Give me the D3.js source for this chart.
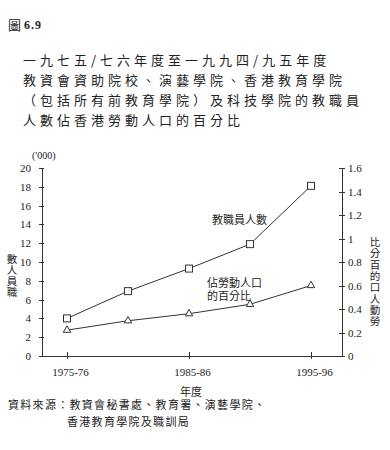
<!DOCTYPE html>
<html>
<head>
<meta charset="utf-8">
<script src="https://cdn.jsdelivr.net/npm/d3@7"></script>
<style>
  body { margin: 0; background: #fff; }
  .cjk { font-family: "Noto Sans CJK TC", "Noto Sans CJK SC", sans-serif; fill: #222; }
  .num { font-family: "Liberation Serif", "DejaVu Serif", serif; font-size: 11px; fill: #222; }
  .axis path, .axis line { stroke: #333; stroke-width: 1; shape-rendering: crispEdges; }
</style>
</head>
<body>
<div id="chart"></div>
<script>
// Data
var years = [1975, 1980, 1985, 1990, 1995];
var staffCount = [4.0, 6.9, 9.3, 11.9, 18.1];      // ('000)
var labourPct = [0.22, 0.30, 0.36, 0.44, 0.60];    // %
var xTicks = [1975, 1985, 1995];
var xTickLabels = ["1975-76", "1985-86", "1995-96"];
var leftTicks = [0, 2, 4, 6, 8, 10, 12, 14, 16, 18, 20];
var rightTicks = [0, 0.2, 0.4, 0.6, 0.8, 1, 1.2, 1.4, 1.6];
var titleLines = [
  "一九七五/七六年度至一九九四/九五年度",
  "教資會資助院校、演藝學院、香港教育學院",
  "（包括所有前教育學院）及科技學院的教職員",
  "人數佔香港勞動人口的百分比"
];
var sourceLines = ["資料來源：教資會秘書處、教育署、演藝學院、", "香港教育學院及職訓局"];

var svgWidth = 390;
var svgHeight = 450;

var svg = d3.select("#chart")
  .append("svg")
  .attr("width", svgWidth)
  .attr("height", svgHeight);

// Plot frame
var plotLeft = 42, plotRight = 342, plotTop = 168, plotBottom = 356;

var xScale = d3.scaleLinear().domain([1975, 1995]).range([67, 311]);
var yLeft = d3.scaleLinear().domain([0, 20]).range([plotBottom, plotTop]);
var yRight = d3.scaleLinear().domain([0, 1.6]).range([plotBottom, plotTop]);

// Heading
svg.append("text")
  .attr("class", "cjk")
  .attr("x", 8).attr("y", 30)
  .style("font-size", "13px")
  .text("圖");
svg.append("text")
  .attr("class", "num")
  .attr("x", 24).attr("y", 29)
  .style("font-size", "12px")
  .style("font-weight", "bold")
  .style("letter-spacing", "1px")
  .text("6.9");

titleLines.forEach(function(t, i) {
  svg.append("text")
    .attr("class", "cjk")
    .attr("x", 23).attr("y", 65 + i * 20)
    .style("font-size", "13px")
    .style("letter-spacing", "4px")
    .text(t);
});

// Axes
var leftAxis = d3.axisLeft(yLeft).tickValues(leftTicks).tickSize(3).tickPadding(8).tickSizeOuter(0);
var gL = svg.append("g")
  .attr("class", "axis")
  .attr("transform", `translate(${plotLeft}, 0)`)
  .call(leftAxis);
gL.selectAll(".tick line").attr("x1", 2).attr("x2", -3);

var rightAxis = d3.axisRight(yRight).tickValues(rightTicks).tickSize(3).tickPadding(3).tickSizeOuter(0)
  .tickFormat(d3.format("~g"));
var gR = svg.append("g")
  .attr("class", "axis")
  .attr("transform", `translate(${plotRight}, 0)`)
  .call(rightAxis);
gR.selectAll(".tick line").attr("x1", -3).attr("x2", 3);

var bottomAxis = d3.axisBottom(xScale).tickValues(xTicks).tickSize(3).tickPadding(9)
  .tickFormat((d, i) => xTickLabels[i]);
var gB = svg.append("g")
  .attr("class", "axis")
  .attr("transform", `translate(0, ${plotBottom})`)
  .call(bottomAxis);
gB.select(".domain").remove();
gB.selectAll(".tick line").attr("y1", -4).attr("y2", 3);
gB.selectAll(".tick text").attr("dx", 3);
gB.append("line")
  .attr("x1", plotLeft).attr("x2", plotRight)
  .attr("y1", 0.5).attr("y2", 0.5)
  .attr("stroke", "#333");

[gL, gR, gB].forEach(function(g) {
  g.selectAll("text").attr("class", "num").attr("fill", null);
});

// ('000) unit
svg.append("text")
  .attr("class", "num")
  .attr("x", 32).attr("y", 159)
  .style("font-size", "10px")
  .text("('000)");

// Lines
var staffLine = d3.line().x((d, i) => xScale(years[i])).y(d => yLeft(d));
var pctLine = d3.line().x((d, i) => xScale(years[i])).y(d => yRight(d));

svg.append("path")
  .datum(staffCount)
  .attr("d", staffLine)
  .attr("fill", "none")
  .attr("stroke", "#333")
  .attr("stroke-width", 1);

svg.append("path")
  .datum(labourPct)
  .attr("d", pctLine)
  .attr("fill", "none")
  .attr("stroke", "#333")
  .attr("stroke-width", 1);

// Markers
svg.selectAll(".sq")
  .data(staffCount)
  .enter()
  .append("rect")
  .attr("class", "sq")
  .attr("x", (d, i) => xScale(years[i]) - 3.5)
  .attr("y", d => yLeft(d) - 3.5)
  .attr("width", 7)
  .attr("height", 7)
  .attr("fill", "#fff")
  .attr("stroke", "#333");

var tri = d3.symbol().type(d3.symbolTriangle).size(24);
svg.selectAll(".tri")
  .data(labourPct)
  .enter()
  .append("path")
  .attr("class", "tri")
  .attr("d", tri)
  .attr("transform", (d, i) => `translate(${xScale(years[i])}, ${yRight(d)})`)
  .attr("fill", "#fff")
  .attr("stroke", "#333");

// Series labels
svg.append("text").attr("class", "cjk")
  .attr("x", 212).attr("y", 224)
  .style("font-size", "11px")
  .text("教職員人數");
svg.append("text").attr("class", "cjk")
  .attr("x", 207).attr("y", 287)
  .style("font-size", "11px")
  .text("佔勞動人口");
svg.append("text").attr("class", "cjk")
  .attr("x", 207).attr("y", 300)
  .style("font-size", "11px")
  .text("的百分比");

// Vertical axis titles (characters stacked, bottom to top)
var leftTitle = "職員人數".split("").reverse();
leftTitle.forEach(function(c, i) {
  svg.append("text").attr("class", "cjk")
    .attr("x", 12).attr("y", 263 + i * 11)
    .attr("text-anchor", "middle")
    .style("font-size", "10.5px")
    .text(c);
});
var rightTitle = "勞動人口的百分比".split("").reverse();
rightTitle.forEach(function(c, i) {
  svg.append("text").attr("class", "cjk")
    .attr("x", 375).attr("y", 246 + i * 11.3)
    .attr("text-anchor", "middle")
    .style("font-size", "10.5px")
    .text(c);
});

// X title
svg.append("text").attr("class", "cjk")
  .attr("x", 191).attr("y", 396)
  .attr("text-anchor", "middle")
  .style("font-size", "11px")
  .text("年度");

// Source
svg.append("text").attr("class", "cjk")
  .attr("x", 8).attr("y", 409)
  .style("font-size", "11px")
  .style("letter-spacing", "1.3px")
  .text(sourceLines[0]);
svg.append("text").attr("class", "cjk")
  .attr("x", 67).attr("y", 426)
  .style("font-size", "11px")
  .style("letter-spacing", "1.3px")
  .text(sourceLines[1]);
</script>
</body>
</html>
